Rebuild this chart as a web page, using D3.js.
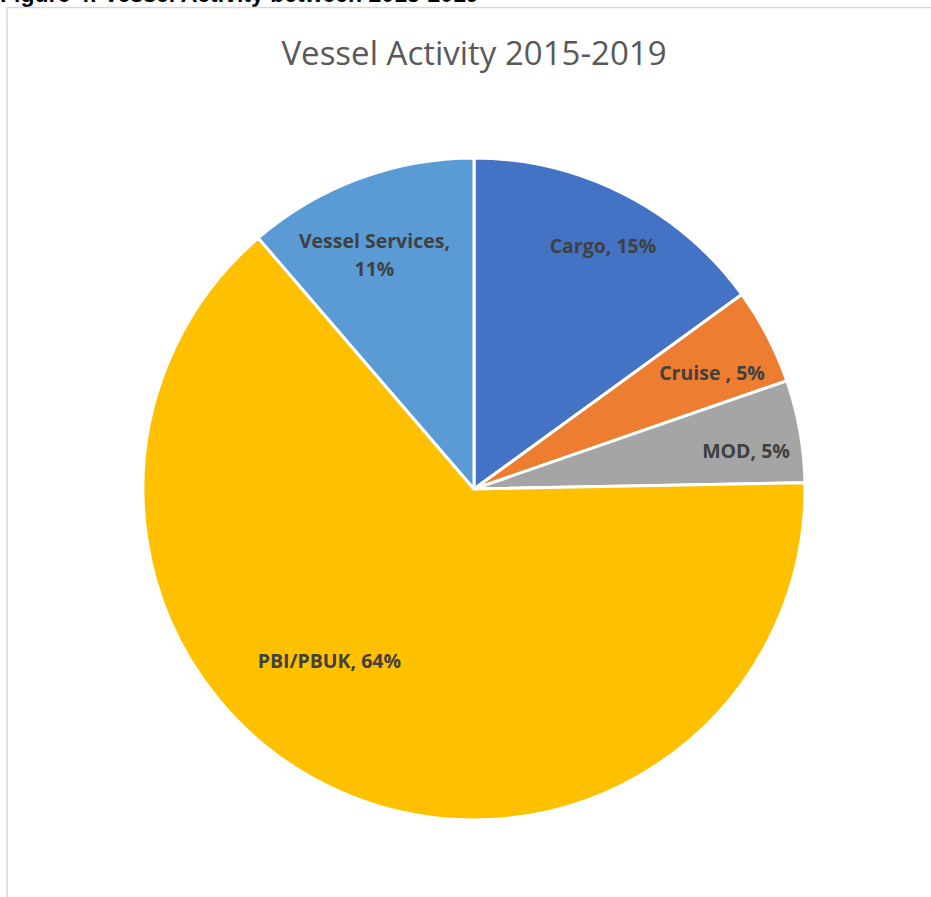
<!DOCTYPE html>
<html>
<head>
<meta charset="utf-8">
<script src="https://cdn.jsdelivr.net/npm/d3@7"></script>
<style>
  body { margin: 0; background: #fff; }
  svg { display: block; }
</style>
</head>
<body>
<div id="chart"></div>
<script>
var width = 931;
var height = 897;

// data
var categories = ["Cargo", "Cruise ", "MOD", "PBI/PBUK", "Vessel Services"];
var shares = [15.0, 4.7, 5.0, 64.0, 11.3];
var labels = ["15%", "5%", "5%", "64%", "11%"];
var colors = ["#4472c4", "#ed7d31", "#a5a5a5", "#ffc000", "#5b9bd5"];

var cx = 474;
var cy = 489;
var radius = 331;

// where Excel's "best fit" put each label (radius fraction, angle in degrees)
var labelSpots = [
  { r: 0.83, a: 28 },
  { r: 0.80, a: 64 },
  { r: 0.83, a: 82 },
  { r: 0.68, a: 220 },
  { r: 0.77, a: 337 }
];

var svg = d3
  .select("#chart")
  .append("svg")
  .attr("width", width)
  .attr("height", height);

// figure caption cut off at the top
svg
  .append("text")
  .attr("x", 0)
  .attr("y", 2)
  .attr("font-family", "Liberation Sans, Arial, sans-serif")
  .attr("font-weight", "bold")
  .attr("font-size", 23)
  .attr("fill", "#000")
  .text("Figure 4: Vessel Activity between 2015-2019");

// chart area border
svg
  .append("rect")
  .attr("x", 7)
  .attr("y", 7.5)
  .attr("width", width + 20)
  .attr("height", height + 20)
  .attr("fill", "#fff")
  .attr("stroke", "#d9d9d9")
  .attr("stroke-width", 1.5);

svg
  .append("text")
  .attr("x", cx)
  .attr("y", 65)
  .attr("text-anchor", "middle")
  .attr("font-family", "Open Sans, sans-serif")
  .attr("font-size", 33)
  .attr("fill", "#595959")
  .text("Vessel Activity 2015-2019");

var pie = d3
  .pie()
  .sort(null)
  .value(function(d) {
    return d;
  });

var arc = d3
  .arc()
  .innerRadius(0)
  .outerRadius(radius);

var g = svg.append("g").attr("transform", "translate(" + cx + "," + cy + ")");

var arcs = pie(shares);

g.selectAll(".slice")
  .data(arcs)
  .enter()
  .append("path")
  .attr("class", "slice")
  .attr("d", arc)
  .attr("fill", function(d, i) {
    return colors[i];
  })
  .attr("stroke", "#fff")
  .attr("stroke-width", 3)
  .attr("stroke-linejoin", "round");

var labelG = g
  .selectAll(".lbl")
  .data(arcs)
  .enter()
  .append("text")
  .attr("class", "lbl")
  .attr("text-anchor", "middle")
  .attr("font-family", "Open Sans, sans-serif")
  .attr("font-weight", "bold")
  .attr("font-size", 19.5)
  .attr("fill", "#404040")
  .attr("transform", function(d, i) {
    var s = labelSpots[i];
    var a = (s.a * Math.PI) / 180;
    var r = radius * s.r;
    return "translate(" + r * Math.sin(a) + "," + -r * Math.cos(a) + ")";
  });

labelG.each(function(d, i) {
  var t = d3.select(this);
  if (categories[i] === "Vessel Services") {
    t.append("tspan").attr("x", 0).attr("dy", "-0.35em").text(categories[i] + ",");
    t.append("tspan").attr("x", 0).attr("dy", "1.45em").text(labels[i]);
  } else {
    t.append("tspan").attr("x", 0).attr("dy", "0.35em").text(categories[i] + ", " + labels[i]);
  }
});
</script>
</body>
</html>
